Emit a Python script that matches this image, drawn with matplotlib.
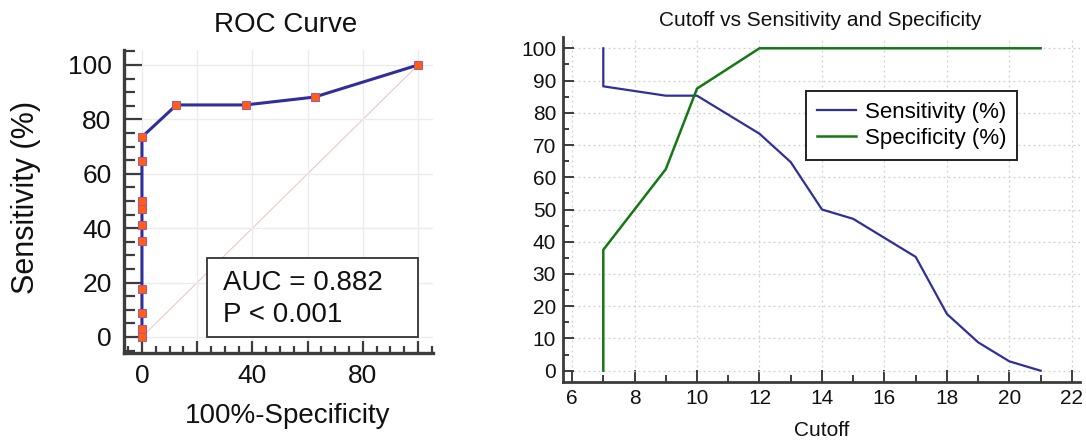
import numpy as np
import matplotlib
matplotlib.use("Agg")
import matplotlib.pyplot as plt
from matplotlib.patches import Rectangle
from matplotlib.ticker import MultipleLocator

plt.rcParams['font.family'] = ['Liberation Sans', 'DejaVu Sans']

# criterion table
cutoff = [7, 7, 9, 10, 12, 13, 14, 15, 16, 17, 18, 19, 20, 21]
sensitivity = [100, 88.2, 85.3, 85.3, 73.5, 64.7, 50.0, 47.1, 41.2, 35.3, 17.6, 8.8, 2.9, 0]
specificity = [0, 37.5, 62.5, 87.5, 100, 100, 100, 100, 100, 100, 100, 100, 100, 100]
auc_lines = ["AUC = 0.882", "P < 0.001"]

fpr = 100 - np.array(specificity)
tpr = np.array(sensitivity)

spine_c = '#3c3c3c'
blue = '#2f2f9c'
green = '#157815'

fig = plt.figure(figsize=(10.86, 4.41), dpi=100)

# ---- ROC curve ----
ax1 = fig.add_axes([124/1086, 1 - 353/441, 309/1086, 303/441])
ax1.plot([0, 100], [0, 100], color='#ecc8c8', lw=0.8, zorder=1)
ax1.plot(fpr, tpr, color=blue, lw=2.2, marker='s', ms=6.2,
         mfc='#ff6010', mec='#b050a0', mew=0.7, zorder=3)
ax1.set_xlim(-6.5, 105.4)
ax1.set_ylim(-5.9, 105.5)
ax1.xaxis.set_minor_locator(MultipleLocator(5))
ax1.yaxis.set_major_locator(MultipleLocator(20))
ax1.yaxis.set_minor_locator(MultipleLocator(5))
ax1.set_xticks([0, 20, 40, 60, 80, 100], ['0', '', '40', '', '80', ''])
ax1.grid(True, which='major', color='#ebebeb', lw=1.0, zorder=0)
for s in ['top', 'right']:
    ax1.spines[s].set_visible(False)
for s in ['left', 'bottom']:
    ax1.spines[s].set_linewidth(2.4)
    ax1.spines[s].set_color(spine_c)
ax1.tick_params(axis='both', which='both', direction='in', color=spine_c, width=1.6,
                labelsize=19, labelcolor='#111111')
ax1.tick_params(axis='y', which='major', length=13, pad=9)
ax1.tick_params(axis='y', which='minor', length=8)
ax1.tick_params(axis='x', which='major', length=9, pad=8)
ax1.tick_params(axis='x', which='minor', length=5)

ax1.add_patch(Rectangle((23.6, 0), 76.4, 29.0, fc='white', ec='#333333', lw=1.3, zorder=5))
ax1.text(29.3, 17.3, auc_lines[0], fontsize=20, va='baseline', ha='left', color='#111111', zorder=6)
ax1.text(29.3, 5.6, auc_lines[1], fontsize=20, va='baseline', ha='left', color='#111111', zorder=6)

fig.text(286/1086, 1 - 25/441, "ROC Curve", fontsize=20, ha='center', va='center', color='#111111')
fig.text(288/1086, 1 - 416/441, "100%-Specificity", fontsize=20, ha='center', va='center', color='#111111')
fig.text(26/1086, 1 - 197/441, "Sensitivity (%)", fontsize=22, ha='center', va='center',
         rotation=90, color='#111111')

# ---- cutoff vs sensitivity / specificity ----
ax2 = fig.add_axes([563/1086, 1 - 382/441, 517/1086, 345/441])
ax2.plot(cutoff, sensitivity, color=blue, lw=1.6, label='Sensitivity (%)', zorder=3)
ax2.plot(cutoff, specificity, color=green, lw=1.8, label='Specificity (%)', zorder=3)
ax2.set_xlim(5.71, 22.26)
ax2.set_ylim(-3.5, 103.5)
ax2.xaxis.set_major_locator(MultipleLocator(2))
ax2.xaxis.set_minor_locator(MultipleLocator(1))
ax2.yaxis.set_major_locator(MultipleLocator(10))
ax2.yaxis.set_minor_locator(MultipleLocator(5))
ax2.grid(True, which='major', color='#cfcfcf', lw=0.9, ls=(0, (1.5, 2.5)), zorder=0)
for s in ['top', 'right']:
    ax2.spines[s].set_visible(False)
for s in ['left', 'bottom']:
    ax2.spines[s].set_linewidth(2.0)
    ax2.spines[s].set_color(spine_c)
ax2.tick_params(axis='both', which='both', direction='in', color=spine_c, width=1.4,
                labelsize=15, labelcolor='#111111')
ax2.tick_params(axis='y', which='major', length=8, pad=5)
ax2.tick_params(axis='y', which='minor', length=4)
ax2.tick_params(axis='x', which='major', length=9, pad=5)
ax2.tick_params(axis='x', which='minor', length=5)
leg = ax2.legend(loc='upper left', bbox_to_anchor=(0.470, 0.843), fontsize=16,
                 frameon=True, fancybox=False, framealpha=1, edgecolor='#222222',
                 handlelength=1.75, borderpad=0.5, labelspacing=0.2, handletextpad=0.4,
                 borderaxespad=0)
leg.get_frame().set_linewidth(1.4)

fig.text(820/1086, 1 - 21/441, "Cutoff vs Sensitivity and Specificity", fontsize=15,
         ha='center', va='center', color='#111111')
fig.text(822/1086, 1 - 431/441, "Cutoff", fontsize=15, ha='center', va='center', color='#111111')

fig.savefig("out.png", dpi=100)
